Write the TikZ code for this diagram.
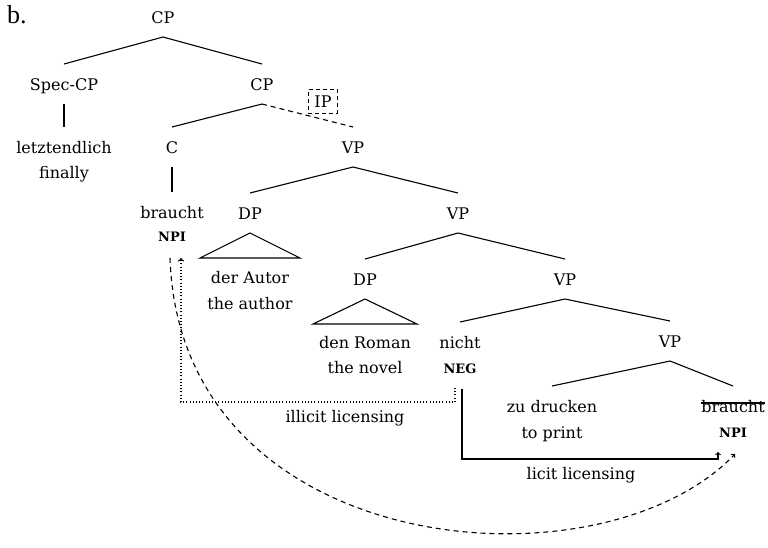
\documentclass[tikz,border=0pt]{standalone}
\usepackage{fontspec}
\setmainfont{DejaVu Serif}
\newfontfamily\exfont{Liberation Serif}
\usetikzlibrary{calc}

% tree edge from the foot of a mother label to the head of a daughter label
\newcommand\treeedge[3][]{%
  \draw[branch,#1] ([yshift=-14pt]#2.base) -- ([yshift=26pt]#3.base);}
% roof over a phrase that is not broken down any further
\newcommand\roof[2]{%
  \draw[branch,line join=miter] ([yshift=-14pt]#1.base)
    -- ([shift={(-#2pt,-39pt)}]#1.base)
    -- ([shift={(#2pt,-39pt)}]#1.base) -- cycle;}

\begin{document}
\begin{tikzpicture}[x=1pt,y=-1pt,
  every node/.style={inner sep=0pt,anchor=base,font=\fontsize{16}{20}\selectfont},
  feat/.style={font=\fontsize{13}{16}\selectfont\bfseries},
  branch/.style={line width=1.1pt},
  hidden/.style={dash pattern=on 5pt off 4pt},
  license/.style={line width=1.1pt,->},
  illicitpath/.style={line width=1.3pt,dash pattern=on 1pt off 2.2pt,->},
  movepath/.style={line width=1.1pt,dash pattern=on 5pt off 4pt,->},
  ipbox/.style={draw,line width=1pt,dash pattern=on 4pt off 3pt,
    inner xsep=6pt,inner ysep=6pt}]
\useasboundingbox (0,0) rectangle (768,547);

\node[font=\exfont\fontsize{26}{30}\selectfont,anchor=base west] (ex) at (7,23) {b.};

% labels of the tree
\node (cp1) at (163,23) {CP};
\node (spec) at (64,90) {Spec-CP};
\node (cp2) at (262,90) {CP};
\node[ipbox] (ip) at (323,107) {IP};
\node (letzt) at (64,153) {letztendlich};
\node (finally) at (64,178) {finally};
\node (c) at (172,153) {C};
\node (vp1) at (353,153) {VP};
\node (br1) at (172,218) {braucht};
\node[feat] (npi1) at (172,241) {NPI};
\node (dp1) at (250,219) {DP};
\node (vp2) at (458,219) {VP};
\node (autor) at (250,283) {der Autor};
\node (author) at (250,309) {the author};
\node (dp2) at (365,285) {DP};
\node (vp3) at (565,285) {VP};
\node (roman) at (365,348) {den Roman};
\node (novel) at (365,373) {the novel};
\node (nicht) at (460,348) {nicht};
\node[feat] (neg) at (460,373) {NEG};
\node (vp4) at (670,347) {VP};
\node (drucken) at (552,412) {zu drucken};
\node (print) at (552,438) {to print};
\node (br2) at (733,412) {braucht};
\node[feat] (npi2) at (733,437) {NPI};
\node (illicit) at (345,422) {illicit licensing};
\node (licit) at (581,479) {licit licensing};

% deleted copy of the verb
\draw[line width=1.1pt] ([yshift=9pt]br2.base west) -- ([yshift=9pt]br2.base east);

% branches
\treeedge{cp1}{spec}
\treeedge{cp1}{cp2}
\treeedge{spec}{letzt}
\treeedge{cp2}{c}
\treeedge[hidden]{cp2}{vp1}
\treeedge{c}{br1}
\treeedge{vp1}{dp1}
\treeedge{vp1}{vp2}
\treeedge{vp2}{dp2}
\treeedge{vp2}{vp3}
\treeedge{vp3}{nicht}
\treeedge{vp3}{vp4}
\treeedge{vp4}{drucken}
\treeedge{vp4}{br2}
\roof{dp1}{50}
\roof{dp2}{52}

% licensing relations
\coordinate (illicitend) at (181,258);
\coordinate (licitend) at (718,452);
\coordinate (moveend) at (735,454);
\draw[illicitpath] ([xshift=-5pt,yshift=-15pt]neg.base) |- (181,402) -- (illicitend);
\draw[license] ([xshift=2pt,yshift=-16pt]neg.base) |- (718,459) -- (licitend);
\draw[movepath] ([xshift=-2pt,yshift=-17pt]npi1.base)
  .. controls (180,560) and (600,595) .. (moveend);
\end{tikzpicture}
\end{document}
